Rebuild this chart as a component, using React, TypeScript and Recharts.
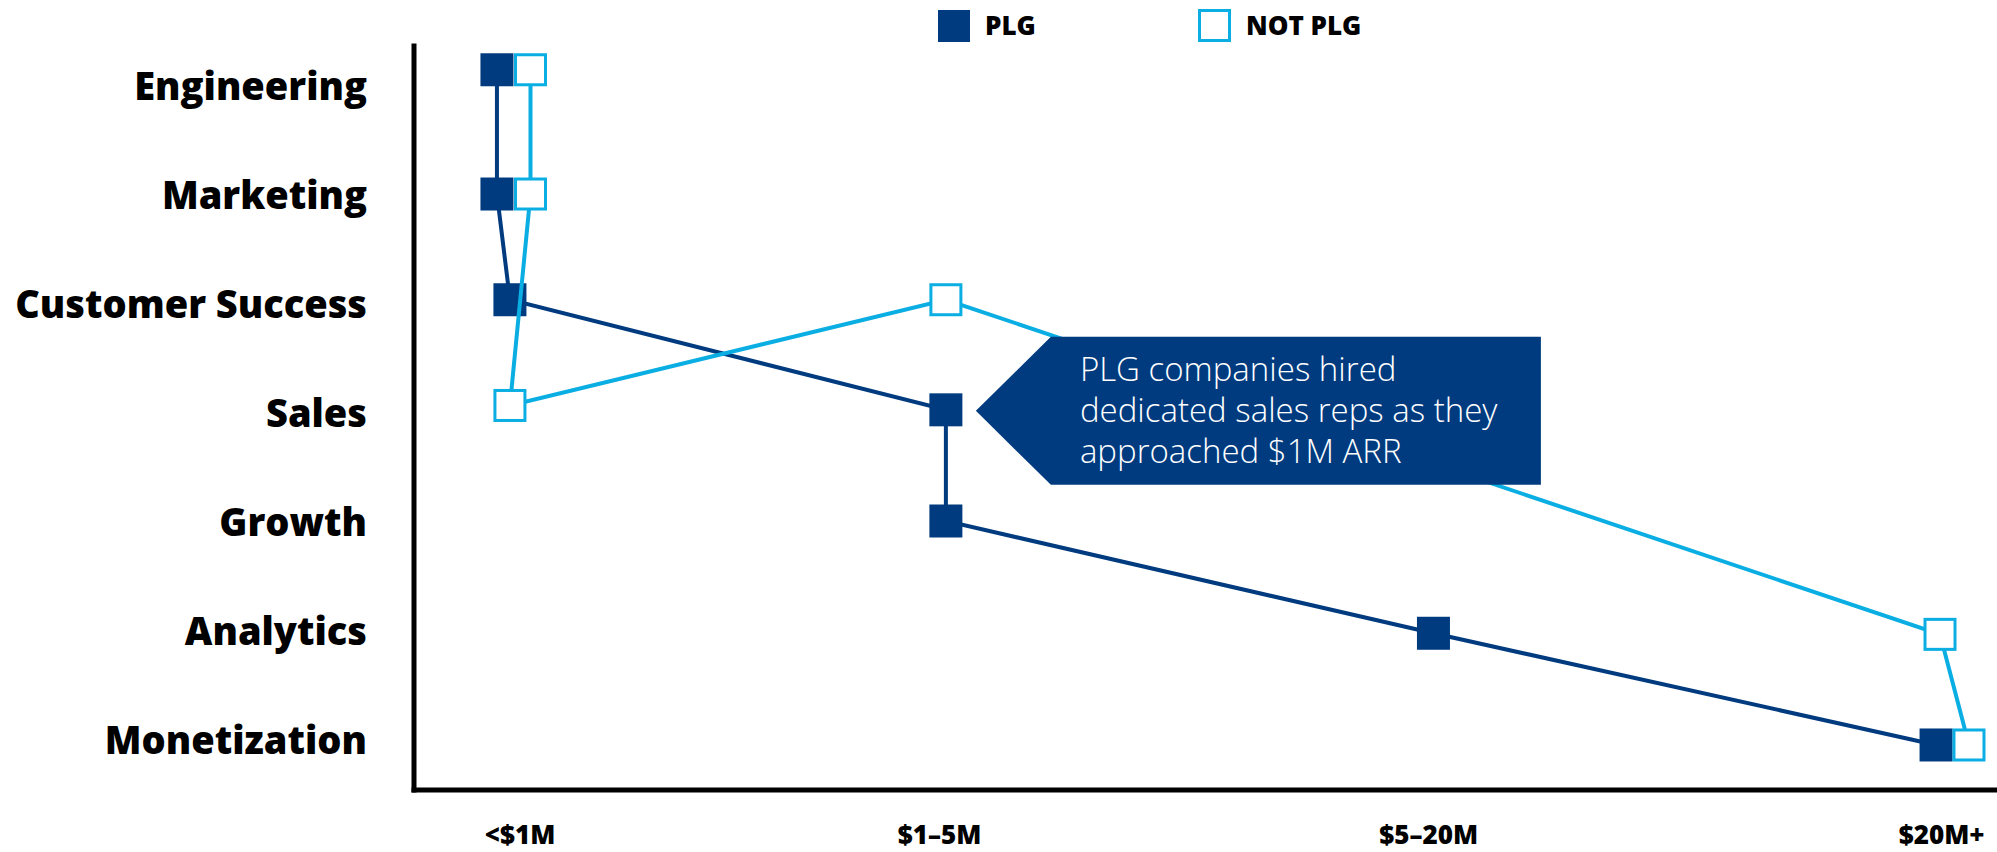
import React from 'react';
import { ScatterChart, Scatter, XAxis, YAxis, Legend, ReferenceDot } from 'recharts';

// Functions (y axis, bottom to top)
const functions = ['Monetization', 'Analytics', 'Growth', 'Sales', 'Customer Success', 'Marketing', 'Engineering'];
const functionTicks = [0, 1, 2, 3, 4, 5, 6];

// ARR stages (x axis)
const stageLabels = ['<$1M', '$1–5M', '$5–20M', '$20M+'];
const stageTicks = [6.7, 33.2, 64.1, 96.5];

// Series names
const seriesNames = ['PLG', 'NOT PLG'];

// PLG: hiring position (x) and function (y)
const plgX = [5.24, 5.24, 6.06, 33.6, 33.6, 64.4, 96.15];
const plgY = [6.14, 5.0, 4.03, 3.02, 2.0, 0.97, -0.055];

// NOT PLG
const notX = [7.36, 7.36, 6.06, 33.6, 96.4, 98.23];
const notY = [6.14, 5.0, 3.06, 4.03, 0.96, -0.055];

const calloutLines = ['PLG companies hired', 'dedicated sales reps as they', 'approached $1M ARR'];

const PLG_COLOR = '#003B7F';
const NOT_COLOR = '#0AAEE3';
const BOLD_FONT = '"Open Sans", Lato, sans-serif';
const LIGHT_FONT = '"Open Sans", Lato, sans-serif';

const plgData = plgX.map((x, i) => ({ x, y: plgY[i] }));
const notData = notX.map((x, i) => ({ x, y: notY[i] }));

const SIZE = 33;

const FilledSquare = (props: any) => {
  const { cx, cy } = props;
  return <rect x={cx - SIZE / 2} y={cy - SIZE / 2} width={SIZE} height={SIZE} fill={PLG_COLOR} />;
};

const HollowSquare = (props: any) => {
  const { cx, cy } = props;
  const s = SIZE - 3;
  return <rect x={cx - s / 2} y={cy - s / 2} width={s} height={s} fill="#fff" stroke={NOT_COLOR} strokeWidth={3} />;
};

const YTick = (props: any) => {
  const { x, y, payload } = props;
  return (
    <text x={x - 45} y={y} textAnchor="end" dominantBaseline="central" fontFamily={BOLD_FONT} fontWeight={800} fontSize={38} fill="#000">
      {functions[payload.value]}
    </text>
  );
};

const XTick = (props: any) => {
  const { x, payload } = props;
  const idx = stageTicks.indexOf(payload.value);
  return (
    <text x={x} y={834} textAnchor="middle" dominantBaseline="central" fontFamily={BOLD_FONT} fontWeight={800} fontSize={26} fill="#000">
      {stageLabels[idx]}
    </text>
  );
};

const Callout = (props: any) => {
  const { cx, cy } = props;
  const tipX = cx + 30;
  const tipY = cy + 1;
  const left = tipX + 75;
  const right = left + 490;
  const top = tipY - 74;
  const bottom = tipY + 74;
  const pts = `${tipX},${tipY} ${left},${top} ${right},${top} ${right},${bottom} ${left},${bottom}`;
  return (
    <g>
      <polygon points={pts} fill={PLG_COLOR} />
      {calloutLines.map((t, i) => (
        <text key={i} x={left + 29} y={tipY - 42 + i * 41} dominantBaseline="central" fontFamily={LIGHT_FONT} fontWeight={300} fontSize={33} fill="#fff">
          {t}
        </text>
      ))}
    </g>
  );
};

const LegendContent = () => {
  const lefts = [938, 1198];
  return (
    <div style={{ position: 'relative', width: 1997, height: 46 }}>
      {seriesNames.map((name, i) => (
        <div key={name} style={{ position: 'absolute', left: lefts[i], top: 9, display: 'flex', alignItems: 'center', height: 33 }}>
          <div style={{
            width: i === 0 ? 32 : 27, height: i === 0 ? 32 : 27,
            background: i === 0 ? PLG_COLOR : '#fff',
            border: i === 0 ? 'none' : `3px solid ${NOT_COLOR}`,
          }} />
          <span style={{ marginLeft: 15, fontFamily: BOLD_FONT, fontWeight: 800, fontSize: 26, color: '#000', lineHeight: '33px' }}>{name}</span>
        </div>
      ))}
    </div>
  );
};

export default function App() {
  return (
    <div style={{ position: 'fixed', left: 0, top: 0, width: 1997, height: 852, background: '#fff' }}>
      <ScatterChart width={1997} height={852} margin={{ top: 46, right: 0, bottom: 0, left: 0 }}>
        <XAxis
          type="number"
          dataKey="x"
          domain={[0, 100]}
          allowDataOverflow
          ticks={stageTicks}
          tick={<XTick />}
          tickLine={false}
          axisLine={{ stroke: '#000', strokeWidth: 5, strokeLinecap: 'square' } as any}
          height={62}
        />
        <YAxis
          type="number"
          dataKey="y"
          domain={[-0.468, 6.358]}
          allowDataOverflow
          ticks={functionTicks}
          tick={<YTick />}
          tickLine={false}
          tickSize={0}
          axisLine={{ stroke: '#000', strokeWidth: 5, strokeLinecap: 'square' } as any}
          width={414}
        />
        <Legend layout="horizontal" verticalAlign="middle" align="center" wrapperStyle={{ top: 0, left: 0, width: 1997, height: 46 }} content={<LegendContent />} />
        <Scatter name={seriesNames[0]} data={plgData} fill={PLG_COLOR} line={{ stroke: PLG_COLOR, strokeWidth: 4 }} shape={<FilledSquare />} isAnimationActive={false} />
        <Scatter name={seriesNames[1]} data={notData} fill={NOT_COLOR} line={{ stroke: NOT_COLOR, strokeWidth: 4 }} shape={<HollowSquare />} isAnimationActive={false} />
        <ReferenceDot x={plgX[3]} y={plgY[3]} r={0} shape={<Callout />} ifOverflow="visible" />
      </ScatterChart>
    </div>
  );
}
